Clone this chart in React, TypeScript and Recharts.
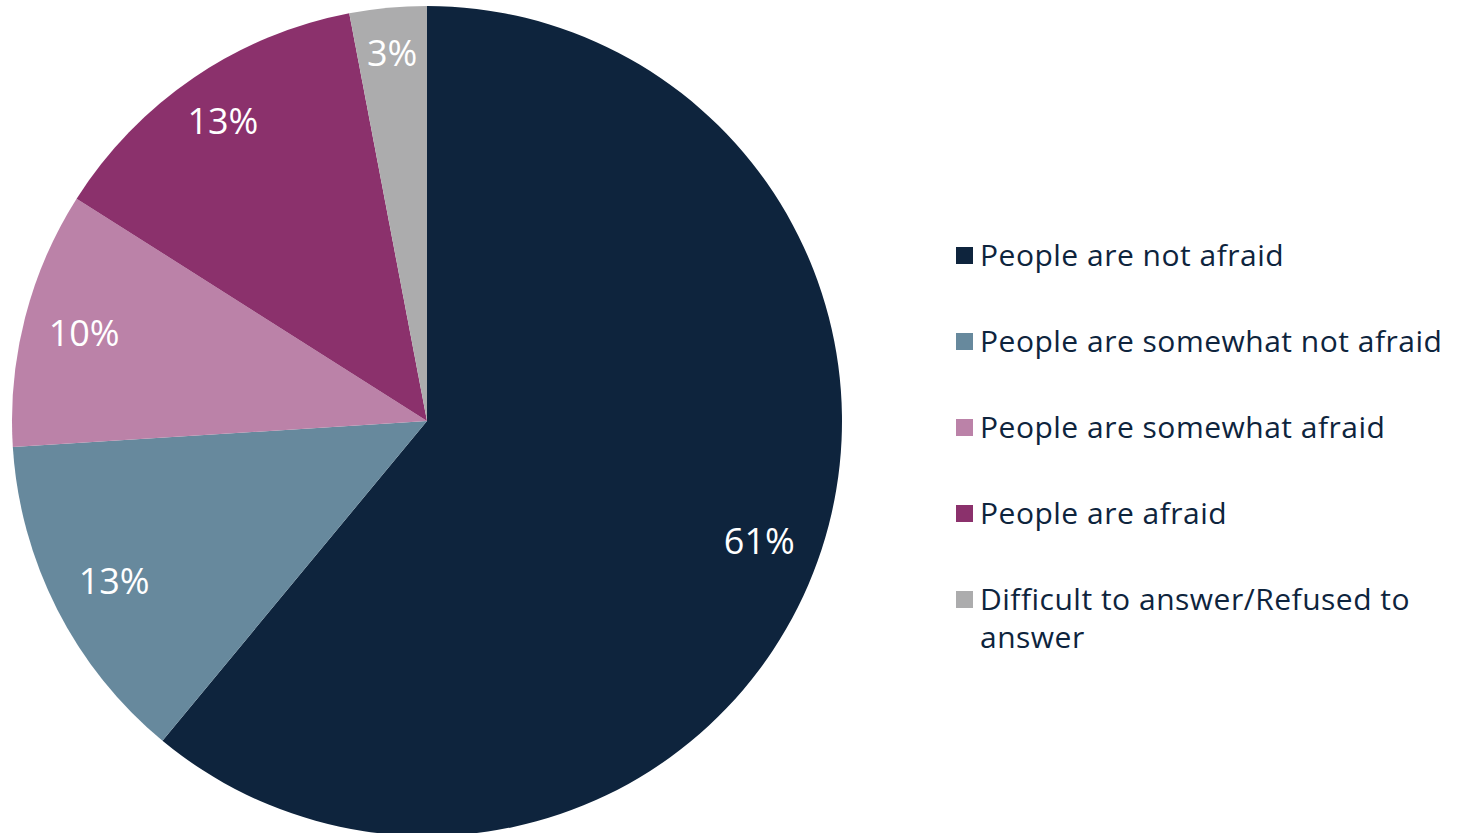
import { PieChart, Pie, Cell, Legend } from 'recharts';

const categories = [
  'People are not afraid',
  'People are somewhat not afraid',
  'People are somewhat afraid',
  'People are afraid',
  'Difficult to answer/Refused to answer',
];
const shares = [61, 13, 10, 13, 3];
const colors = ['#0e243d', '#67899d', '#bb82a8', '#8b316c', '#acacad'];
// label distance from centre, as a share of the radius (best-fit placement)
const labelRadius = [0.851, 0.846, 0.853, 0.875, 0.892];

const data = categories.map((name, i) => ({ name, value: shares[i] }));

const FONT = '"Open Sans", "DejaVu Sans", sans-serif';
const RAD = Math.PI / 180;

function renderLabel(props: any) {
  const { cx, cy, midAngle, outerRadius, value, index } = props;
  const r = outerRadius * labelRadius[index];
  const x = cx + r * Math.cos(-midAngle * RAD);
  const y = cy + r * Math.sin(-midAngle * RAD);
  return (
    <text x={x} y={y} fill="#ffffff" textAnchor="middle" dominantBaseline="central" fontSize={36} fontFamily={FONT}>
      {`${value}%`}
    </text>
  );
}

function renderLegend() {
  return (
    <div style={{ fontFamily: FONT, fontSize: 30, letterSpacing: 0.5, color: '#0e243d', width: 500 }}>
      {data.map((d, i) => (
        <div key={d.name} style={{ display: 'flex', alignItems: 'flex-start', height: 86 }}>
          <span style={{ width: 17, height: 17, background: colors[i], marginTop: 11, marginRight: 7, flexShrink: 0 }} />
          <span style={{ lineHeight: '38px', width: 470 }}>{d.name}</span>
        </div>
      ))}
    </div>
  );
}

export default function App() {
  return (
    <div style={{ position: 'absolute', left: 0, top: 0, background: '#fff' }}>
      <PieChart width={1459} height={833} margin={{ top: 0, right: 0, bottom: 0, left: 0 }}>
        <Pie
          data={data}
          dataKey="value"
          nameKey="name"
          cx={427}
          cy={421}
          outerRadius={415}
          startAngle={90}
          endAngle={-270}
          stroke="none"
          label={renderLabel}
          labelLine={false}
          isAnimationActive={false}
        >
          {data.map((d, i) => (
            <Cell key={d.name} fill={colors[i]} />
          ))}
        </Pie>
        <Legend content={renderLegend} wrapperStyle={{ left: 956, top: 236, width: 500 }} />
      </PieChart>
    </div>
  );
}
